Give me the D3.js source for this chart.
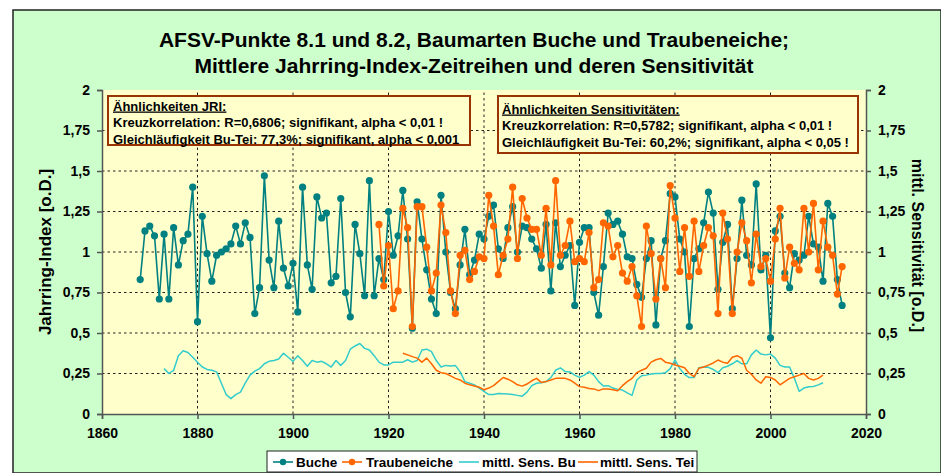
<!DOCTYPE html>
<html>
<head>
<meta charset="utf-8">
<script src="https://cdn.jsdelivr.net/npm/d3@7"></script>
<style>
  body { margin: 0; background: #fff; }
  svg { display: block; font-family: "Liberation Sans", Arial, sans-serif; }
</style>
</head>
<body>
<svg id="chart" width="941" height="473"></svg>
<script>
// Jahrring-Index Buche, 1868-2015
const buche = [
  0.83, 1.13,
  1.16, 1.10, 0.71, 1.11, 0.71, 1.15, 0.92, 1.07, 1.11, 1.40,
  0.57, 1.22, 0.99, 0.82, 0.98, 1.00, 1.02, 1.05, 1.16, 1.05,
  1.18, 1.09, 0.62, 0.78, 1.47, 0.95, 0.78, 1.19, 0.90, 0.79,
  0.93, 0.63, 1.40, 0.92, 0.77, 1.34, 1.21, 1.24, 0.81, 0.85,
  1.33, 0.75, 0.60, 1.17, 0.99, 0.73, 1.44, 0.73, 0.96, 0.83,
  1.25, 0.98, 1.10, 1.38, 1.08, 0.53, 1.31, 1.08, 0.89, 0.71,
  0.62, 1.35, 1.00, 0.75, 0.65, 0.92, 1.14, 0.86, 0.95, 1.11,
  1.08, 1.22, 1.29, 1.02, 0.96, 1.15, 1.28, 1.00, 1.16, 1.15,
  1.08, 1.02, 0.90, 1.17, 0.76, 1.18, 0.91, 0.98, 1.04, 0.67,
  1.06, 1.15, 1.15, 0.75, 0.61, 0.91, 1.24, 1.17, 1.19, 1.11,
  0.97, 0.96, 0.80, 0.72, 0.96, 1.07, 0.55, 0.96, 1.07, 1.36,
  1.34, 1.08, 1.00, 0.54, 0.96, 1.02, 1.18, 1.37, 1.24, 0.77,
  1.06, 1.17, 0.65, 0.96, 1.32, 0.98, 0.92, 1.42, 0.89, 0.98,
  0.47, 1.13, 1.22, 0.87, 0.78, 0.99, 0.95, 0.98, 1.22, 1.05,
  1.03, 0.82, 1.30, 1.22, 0.83, 0.67
];
const bucheStart = 1868;

// Jahrring-Index Traubeneiche, 1918-2015
const eiche = [
  1.17, 0.79,
  1.04, 0.65, 0.76, 1.27, 1.15, 0.54, 1.28, 1.28, 1.03, 0.76,
  0.87, 1.29, 1.12, 0.76, 0.62, 0.98, 1.01, 0.83, 0.88, 0.97,
  0.96, 1.35, 1.16, 0.86, 0.98, 1.08, 1.40, 0.96, 1.33, 1.21,
  1.14, 1.14, 0.98, 1.27, 0.92, 1.44, 0.98, 1.04, 1.19, 0.94,
  0.96, 0.94, 1.12, 0.78, 0.83, 1.18, 1.16, 0.97, 1.04, 0.87,
  0.82, 0.91, 0.73, 0.54, 1.16, 0.99, 0.71, 0.96, 0.78, 1.41,
  1.21, 0.88, 1.15, 0.85, 1.19, 0.88, 1.04, 1.15, 1.10, 0.62,
  1.24, 1.08, 0.62, 1.00, 1.18, 1.07, 0.81, 1.11, 0.91, 0.96,
  0.82, 1.08, 1.27, 0.84, 1.03, 0.93, 0.89, 1.27, 1.00, 1.30,
  0.89, 1.19, 1.03, 0.98, 0.74, 0.91
];
const eicheStart = 1918;

// mittlere Sensitivität Buche, 1873-2011
const sensBu = [
  0.28, 0.25, 0.27, 0.36, 0.39, 0.38, 0.35,
  0.32, 0.29, 0.275, 0.27, 0.26, 0.19, 0.12, 0.095, 0.12, 0.135,
  0.19, 0.24, 0.265, 0.28, 0.31, 0.325, 0.33, 0.34, 0.375, 0.35,
  0.325, 0.36, 0.33, 0.295, 0.33, 0.32, 0.325, 0.31, 0.29, 0.33,
  0.30, 0.33, 0.40, 0.42, 0.435, 0.405, 0.395, 0.36, 0.32, 0.303,
  0.303, 0.32, 0.32, 0.32, 0.335, 0.32, 0.33, 0.395, 0.40, 0.385,
  0.33, 0.29, 0.30, 0.296, 0.30, 0.26, 0.20, 0.19, 0.18, 0.16,
  0.14, 0.12, 0.12, 0.127, 0.125, 0.123, 0.12, 0.115, 0.11, 0.135,
  0.175, 0.19, 0.193, 0.20, 0.225, 0.27, 0.285, 0.262, 0.26, 0.24,
  0.226, 0.24, 0.262, 0.24, 0.20, 0.173, 0.175, 0.16, 0.152, 0.148,
  0.13, 0.115, 0.21, 0.236, 0.24, 0.247, 0.25, 0.25, 0.255, 0.28,
  0.335, 0.28, 0.245, 0.225, 0.225, 0.285, 0.29, 0.288, 0.275, 0.255,
  0.285, 0.295, 0.31, 0.33, 0.31, 0.31, 0.365, 0.395, 0.37, 0.365,
  0.37, 0.345, 0.30, 0.29, 0.29, 0.22, 0.14, 0.16, 0.168, 0.17,
  0.18, 0.193
];
const sensBuStart = 1873;

// mittlere Sensitivität Traubeneiche, 1923-2011
const sensTei = [
  0.375, 0.365, 0.354, 0.345, 0.32, 0.345, 0.31,
  0.27, 0.255, 0.25, 0.235, 0.22, 0.21, 0.19, 0.18, 0.173, 0.165,
  0.15, 0.16, 0.175, 0.20, 0.225, 0.215, 0.20, 0.18, 0.172, 0.185,
  0.205, 0.22, 0.195, 0.20, 0.21, 0.22, 0.22, 0.22, 0.21, 0.19,
  0.169, 0.165, 0.158, 0.155, 0.144, 0.155, 0.155, 0.15, 0.144, 0.175,
  0.20, 0.22, 0.255, 0.27, 0.282, 0.32, 0.335, 0.343, 0.32, 0.313,
  0.302, 0.295, 0.285, 0.25, 0.23, 0.282, 0.29, 0.302, 0.315, 0.333,
  0.32, 0.313, 0.35, 0.36, 0.344, 0.27, 0.245, 0.21, 0.19, 0.23,
  0.226, 0.21, 0.18, 0.20, 0.22, 0.23, 0.24, 0.25, 0.22, 0.21,
  0.22, 0.24
];
const sensTeiStart = 1923;

const yearTicks = [1860, 1880, 1900, 1920, 1940, 1960, 1980, 2000, 2020];
const valueTicks = [0, 0.25, 0.5, 0.75, 1, 1.25, 1.5, 1.75, 2];

const titleLines = [
  'AFSV-Punkte 8.1 und 8.2, Baumarten Buche und Traubeneiche;',
  'Mittlere Jahrring-Index-Zeitreihen und deren Sensitivität'
];
const noteJri = [
  'Ähnlichkeiten JRI:',
  'Kreuzkorrelation: R=0,6806; signifikant, alpha < 0,01 !',
  'Gleichläufigkeit Bu-Tei: 77,3%; signifikant, alpha < 0,001'
];
const noteSens = [
  'Ähnlichkeiten Sensitivitäten:',
  'Kreuzkorrelation: R=0,5782; signifikant, alpha < 0,01 !',
  'Gleichläufigkeit Bu-Tei: 60,2%; signifikant, alpha < 0,05 !'
];

const C_BUCHE = '#008080';
const C_EICHE = '#ff6600';
const C_SBU = '#33cccc';
const C_STEI = '#ff6600';

const toPts = (arr, start) => arr.map((v, i) => ({ year: start + i, v }));

const svg = d3.select('#chart');
const W = 941, H = 473;

// outer chart area
svg.append('rect').attr('x', 13).attr('y', 10).attr('width', W - 13).attr('height', H - 10)
  .style('fill', '#ccffcc').style('stroke', '#222').style('stroke-width', 1.5);

const x = d3.scaleLinear().domain([1860, 2020]).range([102, 866]);
const y = d3.scaleLinear().domain([0, 2]).range([414, 90]);
const y2 = d3.scaleLinear().domain([0, 2]).range([414, 90]);

const de = d3.formatLocale({ decimal: ',', thousands: '.', grouping: [3], currency: ['', ' €'] });
const fmtV = v => de.format('~g')(v);

// plot area
svg.append('rect')
  .attr('x', x(1860)).attr('y', y(2))
  .attr('width', x(2020) - x(1860)).attr('height', y(0) - y(2))
  .style('fill', '#ffffcc');

// grid
const grid = svg.append('g').attr('class', 'grid');
grid.selectAll('line.h')
  .data(valueTicks.filter(d => d > 0 && d < 2))
  .join('line')
  .attr('class', 'h')
  .attr('x1', x(1860)).attr('x2', x(2020))
  .attr('y1', d => y(d)).attr('y2', d => y(d));
grid.selectAll('line.v')
  .data(yearTicks.filter(d => d > 1860 && d < 2020))
  .join('line')
  .attr('class', 'v')
  .attr('x1', d => x(d)).attr('x2', d => x(d))
  .attr('y1', y(0)).attr('y2', y(2));
grid.selectAll('line')
  .style('stroke', '#222').style('stroke-width', 1).style('stroke-dasharray', '2.5,3');

// axes
const axisFont = g => g.selectAll('text')
  .style('font-size', '14px').style('font-weight', 'bold').style('fill', '#000')
  .style('font-family', '"Liberation Sans", Arial, sans-serif');
const axisLines = g => g.selectAll('path, line').style('stroke', '#555').style('stroke-width', 1.5);

svg.append('g')
  .attr('transform', `translate(0,${y(0)})`)
  .call(d3.axisBottom(x).tickValues(yearTicks).tickFormat(d3.format('d')).tickSizeOuter(0).tickSize(5).tickPadding(9))
  .call(axisFont).call(axisLines);

svg.append('g')
  .attr('transform', `translate(${x(1860)},0)`)
  .call(d3.axisLeft(y).tickValues(valueTicks).tickFormat(fmtV).tickSizeOuter(0).tickSize(5).tickPadding(7))
  .call(axisFont).call(axisLines);

svg.append('g')
  .attr('transform', `translate(${x(2020)},0)`)
  .call(d3.axisRight(y2).tickValues(valueTicks).tickFormat(fmtV).tickSizeOuter(0).tickSize(5).tickPadding(7))
  .call(axisFont).call(axisLines);

// series
const line = (sc) => d3.line().x(d => x(d.year)).y(d => sc(d.v));

function drawSeries(data, color, withDots, sc) {
  const g = svg.append('g');
  g.append('path')
    .datum(data)
    .attr('d', line(sc))
    .style('fill', 'none')
    .style('stroke', color)
    .style('stroke-width', withDots ? 1.6 : 1.5)
    .style('stroke-linejoin', 'round');
  if (withDots) {
    g.selectAll('circle')
      .data(data)
      .join('circle')
      .attr('cx', d => x(d.year))
      .attr('cy', d => sc(d.v))
      .attr('r', 3.6)
      .style('fill', color);
  }
}

drawSeries(toPts(buche, bucheStart), C_BUCHE, true, y);
drawSeries(toPts(eiche, eicheStart), C_EICHE, true, y);
drawSeries(toPts(sensBu, sensBuStart), C_SBU, false, y2);
drawSeries(toPts(sensTei, sensTeiStart), C_STEI, false, y2);

// title
svg.append('g').selectAll('text')
  .data(titleLines)
  .join('text')
  .attr('x', 474).attr('y', (d, i) => 47 + i * 26)
  .attr('text-anchor', 'middle')
  .style('font-size', '21px').style('font-weight', 'bold')
  .text(d => d);

// axis titles
svg.append('text')
  .attr('transform', `translate(51,${y(1)}) rotate(-90)`)
  .attr('text-anchor', 'middle')
  .style('font-size', '17px').style('font-weight', 'bold')
  .text('Jahrring-Index [o.D.]');
svg.append('text')
  .attr('transform', `translate(912,${y(1.04)}) rotate(90)`)
  .attr('text-anchor', 'middle')
  .style('font-size', '16px').style('font-weight', 'bold')
  .text('mittl. Sensitivität [o.D.]');

// note boxes
function noteBox(lines, bx, by, bw, bh, tx, ty0) {
  const g = svg.append('g');
  g.append('rect').attr('x', bx).attr('y', by).attr('width', bw).attr('height', bh)
    .style('fill', '#ffffcc').style('stroke', '#993300').style('stroke-width', 2);
  g.selectAll('text')
    .data(lines)
    .join('text')
    .attr('x', tx).attr('y', (d, i) => ty0 + i * 16.5)
    .style('font-size', '13px').style('font-weight', 'bold')
    .style('text-decoration', (d, i) => i === 0 ? 'underline' : null)
    .text(d => d);
}
noteBox(noteJri, 108, 96, 362, 49, 113, 110.5);
noteBox(noteSens, 498, 96, 360, 57, 502, 113.5);

// legend
const legendItems = [
  { name: 'Buche', color: C_BUCHE, dot: true, lx: 273, tx: 296 },
  { name: 'Traubeneiche', color: C_EICHE, dot: true, lx: 342, tx: 366 },
  { name: 'mittl. Sens. Bu', color: C_SBU, dot: false, lx: 459, tx: 482 },
  { name: 'mittl. Sens. Tei', color: C_STEI, dot: false, lx: 578, tx: 600 }
];
const lg = svg.append('g');
lg.append('rect').attr('x', 267).attr('y', 451).attr('width', 430).attr('height', 21)
  .style('fill', '#fff').style('stroke', '#222').style('stroke-width', 1);
const li = lg.selectAll('g.item').data(legendItems).join('g').attr('class', 'item');
li.append('line')
  .attr('x1', d => d.lx).attr('x2', d => d.lx + 20)
  .attr('y1', 462).attr('y2', 462)
  .style('stroke', d => d.color).style('stroke-width', 1.6);
li.filter(d => d.dot).append('circle')
  .attr('cx', d => d.lx + 10).attr('cy', 462).attr('r', 3.2)
  .style('fill', d => d.color);
li.append('text')
  .attr('x', d => d.tx).attr('y', 467)
  .style('font-size', '13.5px').style('font-weight', 'bold')
  .text(d => d.name);
</script>
</body>
</html>
